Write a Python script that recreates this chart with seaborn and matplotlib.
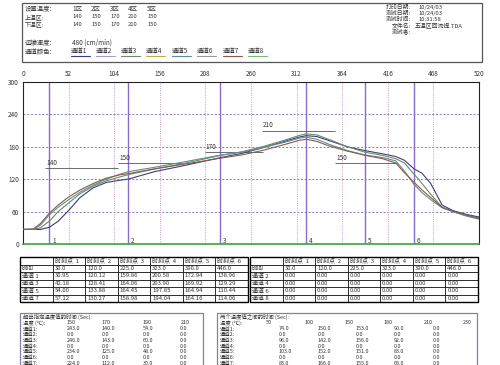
import numpy as np
import pandas as pd
import matplotlib
matplotlib.use("Agg")
import matplotlib.pyplot as plt
from matplotlib.patches import Rectangle
from matplotlib.lines import Line2D
import seaborn as sns

# reflow profile (time s, temp C)
times = [0, 12, 20, 30, 40, 52, 65, 80, 95, 110, 120, 150, 180, 200, 225, 250, 275, 300,
         315, 323, 335, 350, 370, 390, 410, 425, 435, 446, 455, 465, 478, 490, 505, 520]
ch1 = [27, 27, 27, 31, 42, 62, 86, 104, 114, 118, 120.1, 134, 144, 151, 159.9, 168, 179, 191,
       198, 200.6, 199, 191, 180, 172.9, 167, 162, 155, 139.0, 131, 112, 72, 62, 55, 50]
ch3 = [27, 27, 30, 42.2, 60, 76, 93, 107, 117, 124, 128.4, 139, 148, 155, 164.1, 171, 181, 193,
       201, 203.9, 202, 193, 180, 169.9, 164, 158, 150, 129.3, 112, 92, 68, 60, 52, 46]
ch5 = [27, 27, 35, 54.0, 68, 82, 96, 109, 120, 129, 133.9, 142, 151, 157, 164.5, 170, 179, 189,
       196, 197.9, 194, 184, 173, 164.9, 160, 154, 135, 110.4, 95, 82, 67, 60, 53, 47]
ch7 = [27, 28, 38, 57.1, 72, 87, 100, 112, 122, 128, 130.3, 139, 147, 152, 159.0, 165, 174, 185,
       192, 194.0, 190, 181, 172, 164.2, 158, 150, 132, 114.1, 100, 86, 68, 61, 54, 48]

channel_names = ["通道1", "通道2", "通道3", "通道4", "通道5", "通道6", "通道7", "通道8"]
channel_colors = ["#3c3c80", "#a898c8", "#6b8a6b", "#b8b040", "#5f8f8f", "#9a9a9a", "#8c5a4a", "#78b878"]

zone_names = ["1区", "2区", "3区", "4区", "5区"]
upper_set = [140, 150, 170, 210, 150]
lower_set = [140, 150, 170, 210, 150]
zone_start = [25, 108, 207, 272, 356]
zone_end = [108, 180, 274, 356, 428]

probe_times = [30.0, 120.0, 225.0, 323.0, 390.0, 446.0]
probe_a_names = ["通道 1", "通道 3", "通道 5", "通道 7"]
probe_a = [[30.95, 120.12, 159.86, 200.58, 172.94, 138.96],
           [42.18, 128.41, 164.06, 203.90, 169.92, 129.29],
           [54.00, 133.88, 164.45, 197.85, 164.94, 110.44],
           [57.12, 130.27, 158.98, 194.04, 164.16, 114.06]]
probe_b_names = ["通道 2", "通道 4", "通道 6", "通道 8"]
probe_b = [[0.0] * 6 for _ in range(4)]

above_temps = [150, 170, 190, 210]
above_vals = [[243.0, 140.0, 54.0, 0.0], [0.0, 0.0, 0.0, 0.0], [246.0, 143.0, 60.0, 0.0],
              [0.0, 0.0, 0.0, 0.0], [234.0, 125.0, 48.0, 0.0], [0.0, 0.0, 0.0, 0.0],
              [224.0, 112.0, 30.0, 0.0]]
between_temps = [50, 100, 150, 180, 210, 230]
between_vals = [[74.0, 150.0, 153.0, 90.0, 0.0], [0.0, 0.0, 0.0, 0.0, 0.0],
                [96.0, 142.0, 156.0, 92.0, 0.0], [0.0, 0.0, 0.0, 0.0, 0.0],
                [103.0, 152.0, 151.0, 83.0, 0.0], [0.0, 0.0, 0.0, 0.0, 0.0],
                [83.0, 166.0, 155.0, 68.0, 0.0]]

W, H = 500, 365
sns.set_style("white")
plt.rcParams['font.family'] = ['Noto Sans CJK SC', 'DejaVu Sans']
TXT = "#333333"
FS = 4.6
FS_SMALL = 3.9

fig = plt.figure(figsize=(W / 100, H / 100), dpi=100)


def fx(x):
    return x / W


def fy(y):
    return 1 - y / H


def ftext(x, y, s, **kw):
    kw.setdefault("fontsize", FS)
    kw.setdefault("color", TXT)
    kw.setdefault("va", "center")
    fig.text(fx(x), fy(y), s, **kw)


def fbox(x0, y0, x1, y1, color):
    fig.patches.append(Rectangle((fx(x0), fy(y1)), fx(x1) - fx(x0), fy(y0) - fy(y1),
                                 transform=fig.transFigure, fill=False, ec=color, lw=0.9))


# header box
fbox(22, 3, 482, 62, "#555555")
ftext(25, 9, "设置温度:")
ftext(25, 17, "上温区:", fontsize=4.2)
ftext(25, 24, "下温区:", fontsize=4.2)
zx = [72, 91, 110, 128, 147]
for x, z, u, l in zip(zx, zone_names, upper_set, lower_set):
    ftext(x, 9, z)
    ftext(x, 17, str(u), fontsize=4.2)
    ftext(x, 24, str(l), fontsize=4.2)
ftext(25, 43, "运输速度:")
ftext(72, 43, "480 (cm/min)")
ftext(25, 52, "通道颜色:")
cx = [71, 96, 121, 146, 172, 197, 223, 248]
for x, n, c in zip(cx, channel_names, channel_colors):
    ftext(x, 51, n)
    fig.lines.append(Line2D([fx(x), fx(x + 19)], [fy(56), fy(56)], transform=fig.transFigure,
                            color=c, lw=0.8))
for y, lab, val in zip([7, 13.5, 19.5, 25.5, 31.5],
                       ["打印日期:", "测试日期:", "测试时间:", "文件名:", "测试者:"],
                       ["10/24/03", "10/24/03", "10:31:58", "五温区回流焊.TDA", ""]):
    ftext(411, y, lab, ha="right", fontsize=4.2)
    ftext(418 if val != "五温区回流焊.TDA" else 415, y, val, fontsize=4.2)

# profile plot
ax = fig.add_axes([fx(23), fy(244), fx(479) - fx(23), fy(82) - fy(244)])
df = pd.DataFrame({
    "time": times * 4,
    "temp": ch1 + ch3 + ch5 + ch7,
    "channel": ["通道1"] * len(times) + ["通道3"] * len(times) + ["通道5"] * len(times) + ["通道7"] * len(times),
})
pal = dict(zip(channel_names, channel_colors))
for y in range(60, 300, 60):
    ax.axhline(y, color="#7070b0", lw=0.6, ls=(0, (2.5, 2)), zorder=1)
for x in range(52, 520, 52):
    ax.axvline(x, color="#c090b8", lw=0.6, ls=(0, (1.2, 1.5)), zorder=1)
for i, t in enumerate(probe_times):
    ax.axvline(t, color="#8a6cc8", lw=1.0, zorder=2)
    ax.text(t + 3, 6, str(i + 1), fontsize=FS, color=TXT, va="center")
for s, e, temp in zip(zone_start, zone_end, upper_set):
    ax.hlines(temp, s, e, color="#555555", lw=0.6, zorder=3)
    ax.annotate(str(temp), (s, temp), xytext=(1, 2.5), textcoords="offset points",
                fontsize=FS, color=TXT)
sns.lineplot(data=df, x="time", y="temp", hue="channel", palette=pal, estimator=None,
             legend=False, lw=0.8, ax=ax, zorder=4)
ax.set_xlim(0, 520)
ax.set_ylim(0, 300)
ax.set_xticks(range(0, 521, 52))
ax.set_yticks(range(0, 301, 60))
ax.xaxis.tick_top()
ax.tick_params(length=0, labelsize=FS, colors=TXT, pad=3)
ax.set_xlabel("")
ax.set_ylabel("")
for side in ["left", "right", "top"]:
    ax.spines[side].set_color("#222222")
    ax.spines[side].set_linewidth(0.8)
ax.spines["bottom"].set_color("#40a040")
ax.spines["bottom"].set_linewidth(1.2)


def draw_table(x0, y0, x1, y1, names, rows):
    tax = fig.add_axes([fx(x0), fy(y1), fx(x1) - fx(x0), fy(y0) - fy(y1)])
    tax.axis("off")
    cells = [[""] + [f"时刻点  {i + 1}" for i in range(6)]]
    cells.append(["时间"] + [f"{t:.1f}" for t in probe_times])
    for n, r in zip(names, rows):
        cells.append([n] + [f"{v:.2f}" for v in r])
    tbl = tax.table(cellText=cells, cellLoc="left", bbox=[0, 0, 1, 1])
    tbl.auto_set_font_size(False)
    tbl.set_fontsize(4.3)
    for c in tbl.get_celld().values():
        c.set_linewidth(0.5)
        c.PAD = 0.06
        c.get_text().set_color(TXT)
    fig.patches.append(Rectangle((fx(x0), fy(y1)), fx(x1) - fx(x0), fy(y0) - fy(y1),
                                 transform=fig.transFigure, fill=False, ec="black", lw=1.0))


draw_table(20, 257, 248, 302, probe_a_names, probe_a)
draw_table(250, 257, 478, 302, probe_b_names, probe_b)

# bottom summary boxes
fbox(20, 313, 203, 370, "#8080a8")
fbox(217, 313, 477, 370, "#8080a8")
row_y = [323, 329, 334.7, 340.4, 346.1, 351.8, 357.5, 363.2]
ftext(23, 317, "超出指定温度值的时间 (Sec):", fontsize=FS_SMALL)
ftext(23, row_y[0], "温度 (℃):", fontsize=FS_SMALL)
for x, t in zip([67, 102, 143, 181], above_temps):
    ftext(x, row_y[0], str(t), fontsize=FS_SMALL)
for i, r in enumerate(above_vals):
    ftext(23, row_y[i + 1], f"通道{i + 1}:", fontsize=FS_SMALL)
    for x, v in zip([67, 102, 143, 180], r):
        ftext(x, row_y[i + 1], f"{v:.1f}", fontsize=FS_SMALL)
ftext(220, 317, "两个温度值之间的时间 (Sec):", fontsize=FS_SMALL)
ftext(220, row_y[0], "温度 (℃):", fontsize=FS_SMALL)
for x, t in zip([266, 305, 345, 384, 424, 463], between_temps):
    ftext(x, row_y[0], str(t), fontsize=FS_SMALL)
for i, r in enumerate(between_vals):
    ftext(220, row_y[i + 1], f"通道{i + 1}:", fontsize=FS_SMALL)
    for x, v in zip([279, 318, 356, 394, 433], r):
        ftext(x, row_y[i + 1], f"{v:.1f}", fontsize=FS_SMALL)

fig.savefig("out.png", dpi=100)
